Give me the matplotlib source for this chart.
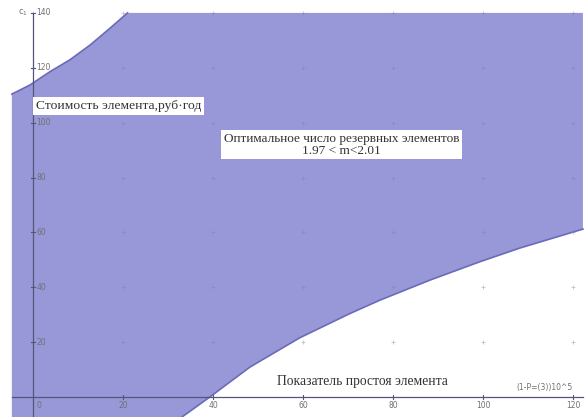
import matplotlib
matplotlib.use('Agg')
from matplotlib import pyplot as plt

# Границы области допустимых решений (c1 от показателя простоя)
upper_x = [-4.7, -0.7, 3.8, 8.2, 12.7, 17.1, 21.0]
upper_y = [110.4, 113.7, 118.6, 122.9, 128.3, 134.4, 140.0]

lower_x = [33.1, 39.3, 48.2, 59.3, 70.4, 77.1, 88.2, 99.3, 108.2, 122.2]
lower_y = [-7.3, 0.0, 10.9, 21.6, 30.4, 35.3, 42.6, 49.3, 54.3, 61.2]

x_ticks = [20, 40, 60, 80, 100, 120]
y_ticks = [20, 40, 60, 80, 100, 120, 140]

x_view = (-4.7, 122.2)
y_top = 140.0

fill_color = '#9898d8'
edge_color = '#6a6ab8'
axis_color = '#55557a'
serif = ['Liberation Serif', 'DejaVu Serif']

fig = plt.figure(figsize=(5.87, 4.17), dpi=100)
ax = fig.add_axes([0, 0, 1, 1])
ax.set_xlim(-7.33, 123.1)
ax.set_ylim(-7.29, 144.7)
ax.axis('off')

# закрашенная область
poly_x = [x_view[0]] + upper_x + [x_view[1], x_view[1]] + lower_x[::-1] + [x_view[0]]
poly_y = [-7.3] + upper_y + [y_top, lower_y[-1]] + lower_y[::-1] + [-7.3]
ax.fill(poly_x, poly_y, color=fill_color, lw=0, zorder=1)
ax.plot(upper_x, upper_y, color=edge_color, lw=1.2, zorder=2)
ax.plot(lower_x, lower_y, color=edge_color, lw=1.2, zorder=2)

# точки сетки
for gx in [0] + x_ticks:
    for gy in [0] + y_ticks:
        ax.plot(gx, gy, marker='+', ms=3, mew=0.6, color='#8080a0', alpha=0.5, zorder=2)

# оси
ax.plot([x_view[0], x_view[1]], [0, 0], color=axis_color, lw=0.9, zorder=3)
ax.plot([0, 0], [-7.3, y_top], color=axis_color, lw=0.9, zorder=3)

for t in x_ticks:
    ax.plot([t, t], [-0.6, 0.6], color=axis_color, lw=0.8, zorder=3)
    ax.text(t, -1.5, str(t), fontsize=5.5, color='#707070', ha='center', va='top', zorder=4)
for t in y_ticks:
    ax.plot([-0.5, 0.5], [t, t], color=axis_color, lw=0.8, zorder=3)
    ax.text(0.8, t, str(t), fontsize=5.5, color='#707070', ha='left', va='center', zorder=4)
ax.text(0.8, -1.5, '0', fontsize=5.5, color='#707070', ha='left', va='top', zorder=4)

ax.text(-1.2, 140, 'c$_1$', fontsize=6, color='#707070', ha='right', va='center', zorder=4)
ax.text(120, 3.5, '(1-P=(3))10^5', fontsize=5.5, color='#707070', ha='right', va='center', zorder=4)

# подписи
ax.text(0.6, 106.0, 'Стоимость элемента,руб·год', fontsize=9.7, family=serif,
        color='#333333', ha='left', va='center', zorder=5,
        bbox=dict(facecolor='white', edgecolor='none', pad=2))
ax.text(68.5, 92.0, 'Оптимальное число резервных элементов\n1.97 < m<2.01', fontsize=9.5,
        family=serif, color='#333333', ha='center', va='center', linespacing=1.0, zorder=5,
        bbox=dict(facecolor='white', edgecolor='none', pad=2))
ax.text(54.2, 5.8, 'Показатель простоя элемента', fontsize=9.8, family=serif,
        color='#333333', ha='left', va='center', zorder=5)

fig.savefig('out.png', dpi=100)
